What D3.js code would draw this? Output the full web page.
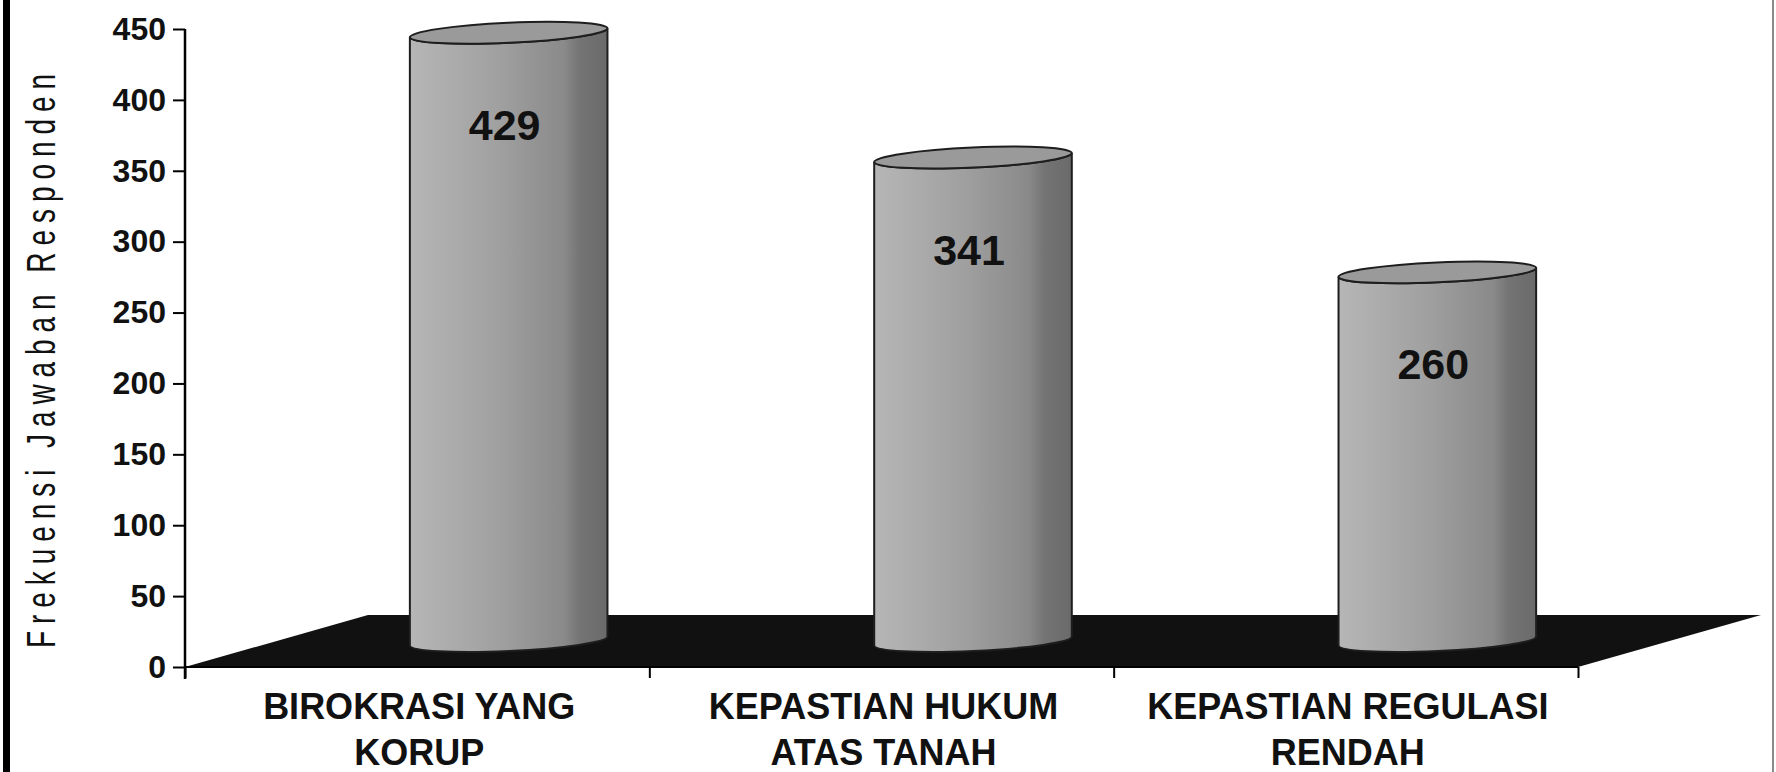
<!DOCTYPE html>
<html>
<head>
<meta charset="utf-8">
<script src="https://cdnjs.cloudflare.com/ajax/libs/d3/7.8.5/d3.min.js"></script>
<style>
  body { margin: 0; background: #fff; }
  svg { display: block; }
</style>
</head>
<body>
<div id="chart"></div>
<script>
// chart values
const categories = ["BIROKRASI YANG KORUP", "KEPASTIAN HUKUM ATAS TANAH", "KEPASTIAN REGULASI RENDAH"];
const labelLines = [["BIROKRASI YANG", "KORUP"], ["KEPASTIAN HUKUM", "ATAS TANAH"], ["KEPASTIAN REGULASI", "RENDAH"]];
const values = [429, 341, 260];
const yTicks = [0, 50, 100, 150, 200, 250, 300, 350, 400, 450];
const yTitle = "Frekuensi Jawaban Responden";

const width = 1776, height = 772;
const margin = {top: 29, right: 198, bottom: 105, left: 185};
const depthX = 183, depthY = -52;   // 3d floor offset
const tilt = -2.6;                  // ellipse tilt in degrees

let svg = d3.select("#chart")
    .append("svg")
    .attr("width", width)
    .attr("height", height);

let defs = svg.append("defs");
let grad = defs.append("linearGradient")
    .attr("id", "cyl")
    .attr("x1", 0).attr("x2", 1).attr("y1", 0).attr("y2", 0);
grad.append("stop").attr("offset", "0%").attr("stop-color", "#b6b6b6");
grad.append("stop").attr("offset", "45%").attr("stop-color", "#a0a0a0");
grad.append("stop").attr("offset", "78%").attr("stop-color", "#8a8a8a");
grad.append("stop").attr("offset", "86%").attr("stop-color", "#747474");
grad.append("stop").attr("offset", "100%").attr("stop-color", "#6a6a6a");

// frame edges
svg.append("rect").attr("x", 3).attr("y", 0).attr("width", 7).attr("height", height).attr("fill", "#000");
svg.append("rect").attr("x", 1772).attr("y", 0).attr("width", 2).attr("height", height).attr("fill", "#8a8a8a");

let x = d3.scaleBand()
    .domain(categories)
    .range([margin.left, width - margin.right])
    .padding(0);

let y = d3.scaleLinear()
    .domain([0, 450])
    .range([height - margin.bottom, margin.top]);

let y0 = y(0);
let x0 = x.range()[0], x1 = x.range()[1];

// floor
svg.append("polygon")
    .attr("points", [[x0, y0], [x0 + depthX, y0 + depthY], [x1 + depthX, y0 + depthY], [x1, y0]].map(p => p.join(",")).join(" "))
    .attr("fill", "#111");

// cylinders
let rx = x.bandwidth() * 0.213, ry = 10;
let t = tilt * Math.PI / 180;
let ex = rx * Math.cos(t), ey = rx * Math.sin(t);

let data = categories.map((c, i) => ({cat: c, value: values[i], lines: labelLines[i]}));

let cyl = svg.selectAll("g.cyl")
    .data(data)
    .enter()
    .append("g")
    .attr("class", "cyl");

cyl.each(function(d) {
    let g = d3.select(this);
    let cx = x(d.cat) + x.bandwidth() / 2 + depthX / 2;
    let top = y(d.value) + depthY / 2;
    let bot = y0 + depthY / 2;
    let p = `M${cx - ex},${top - ey} L${cx - ex},${bot - ey} ` +
            `A${rx},${ry} ${tilt} 0 0 ${cx + ex},${bot + ey} ` +
            `L${cx + ex},${top + ey} ` +
            `A${rx},${ry} ${tilt} 0 1 ${cx - ex},${top - ey} Z`;
    g.append("path")
        .attr("d", p)
        .attr("fill", "url(#cyl)")
        .attr("stroke", "#1e1e1e")
        .attr("stroke-width", 2);
    g.append("ellipse")
        .attr("cx", cx).attr("cy", top)
        .attr("rx", rx).attr("ry", ry)
        .attr("transform", `rotate(${tilt},${cx},${top})`)
        .attr("fill", "#9a9a9a")
        .attr("stroke", "#1e1e1e")
        .attr("stroke-width", 2);
    g.append("text")
        .attr("x", cx - 4)
        .attr("y", top + 107)
        .attr("text-anchor", "middle")
        .style("font-family", "'Liberation Sans', Arial, sans-serif")
        .style("font-weight", "bold")
        .style("font-size", "43px")
        .attr("fill", "#111")
        .text(d.value);
});

// y axis
let yAxis = svg.append("g")
    .attr("transform", `translate(${x0},0)`)
    .call(d3.axisLeft(y).tickValues(yTicks).tickSize(12).tickPadding(7));
yAxis.select(".domain")
    .attr("d", `M0,${margin.top}V${y0 + 12}`)
    .attr("stroke", "#000").attr("stroke-width", 2.5);
yAxis.selectAll(".tick line").attr("stroke", "#000").attr("stroke-width", 2);
yAxis.selectAll(".tick text")
    .style("font-family", "'Liberation Sans', Arial, sans-serif")
    .style("font-weight", "bold")
    .style("font-size", "32px")
    .attr("fill", "#111");

// x axis ticks at band edges
let edges = d3.scaleLinear().domain([0, categories.length]).range([x0, x1]);
let xAxis = svg.append("g")
    .attr("transform", `translate(0,${y0})`)
    .call(d3.axisBottom(edges).tickValues(d3.range(categories.length + 1)).tickSize(11).tickFormat(""));
xAxis.select(".domain").attr("d", `M${x0},0H${x1}`).attr("stroke", "#000").attr("stroke-width", 2);
xAxis.selectAll(".tick line").attr("stroke", "#000").attr("stroke-width", 2);

// category labels
let lab = svg.selectAll("text.cat")
    .data(data)
    .enter()
    .append("text")
    .attr("class", "cat")
    .attr("text-anchor", "middle")
    .style("font-family", "'Liberation Sans', Arial, sans-serif")
    .style("font-weight", "bold")
    .style("font-size", "36px")
    .attr("fill", "#111");
lab.selectAll("tspan")
    .data(d => d.lines.map(l => ({l: l, cx: x(d.cat) + x.bandwidth() / 2 + 2})))
    .enter()
    .append("tspan")
    .attr("x", d => d.cx)
    .attr("y", (d, i) => 719 + i * 46)
    .text(d => d.l);

// y title
svg.append("text")
    .attr("transform", "translate(55,361) rotate(-90) scale(0.7,1)")
    .attr("text-anchor", "middle")
    .attr("textLength", 574 / 0.7)
    .attr("lengthAdjust", "spacing")
    .style("font-family", "'Liberation Sans', Arial, sans-serif")
    .style("font-size", "40px")
    .attr("fill", "#111")
    .text(yTitle);
</script>
</body>
</html>
